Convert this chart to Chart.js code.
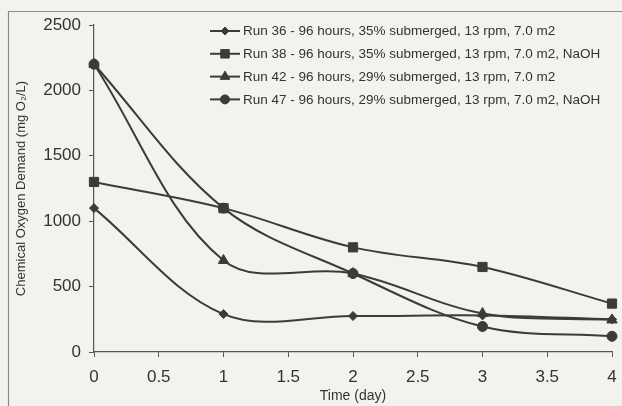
<!DOCTYPE html>
<html>
<head>
<meta charset="utf-8">
<script src="https://cdn.jsdelivr.net/npm/chart.js@4/dist/chart.umd.min.js"></script>
<style>
  html, body { margin: 0; padding: 0; background: #f4f2ee; }
  #wrap { width: 622px; height: 406px; position: relative; }
</style>
</head>
<body>
<div id="wrap"><canvas id="grafico" width="622" height="406"></canvas></div>
<script>
const dias = [0, 1, 2, 3, 4];
const run36 = [1100, 290, 275, 280, 250];
const run38 = [1300, 1100, 800, 650, 370];
const run42 = [2200, 700, 600, 295, 245];
const run47 = [2200, 1100, 600, 195, 120];

const legendas = [
  "Run 36 - 96 hours, 35% submerged, 13 rpm, 7.0 m2",
  "Run 38 - 96 hours, 35% submerged, 13 rpm, 7.0 m2, NaOH",
  "Run 42 - 96 hours, 29% submerged, 13 rpm, 7.0 m2",
  "Run 47 - 96 hours, 29% submerged, 13 rpm, 7.0 m2, NaOH",
];
const marcadores = ["rectRot", "rect", "triangle", "circle"];
const raios = [4.5, 6.5, 6, 5];
const series = [run36, run38, run42, run47];

const cor = "#3b3b3b";
const fonte = "'Liberation Sans', Arial, sans-serif";

const datasets = series.map((s, i) => ({
  label: legendas[i],
  data: s.map((v, j) => ({ x: dias[j], y: v })),
  borderColor: cor,
  backgroundColor: cor,
  borderWidth: 2,
  pointStyle: marcadores[i],
  pointRadius: raios[i],
  pointBorderWidth: 1,
  tension: 0.35,
  fill: false,
  clip: false,
}));

// fundo, moldura, legenda e título do eixo x desenhados à mão
const molduraPlugin = {
  id: "moldura",
  beforeDraw(chart) {
    const c = chart.ctx;
    c.save();
    c.fillStyle = "#f4f2ee";
    c.fillRect(0, 0, chart.width, chart.height);
    c.strokeStyle = "#8a8a8a";
    c.lineWidth = 1.2;
    c.beginPath();
    c.moveTo(8.5, 406);
    c.lineTo(8.5, 11.5);
    c.lineTo(622, 11.5);
    c.stroke();
    c.restore();
  },
  afterDraw(chart) {
    const c = chart.ctx;
    c.save();
    const x0 = 210, yTopo = 31, passo = 22.8;
    chart.data.datasets.forEach((ds, i) => {
      const y = yTopo + i * passo;
      c.strokeStyle = cor;
      c.lineWidth = 2;
      c.beginPath();
      c.moveTo(x0, y);
      c.lineTo(x0 + 30, y);
      c.stroke();
      c.fillStyle = cor;
      c.lineWidth = 1;
      Chart.helpers.drawPoint(c, {
        pointStyle: ds.pointStyle,
        radius: ds.pointRadius - 0.5,
        rotation: 0,
        borderWidth: 1,
      }, x0 + 15, y);
      c.fillStyle = "#333";
      c.font = "13.5px " + fonte;
      c.textBaseline = "middle";
      c.fillText(ds.label, x0 + 33, y + 0.5);
    });
    const area = chart.chartArea;
    c.fillStyle = "#333";
    c.font = "14px " + fonte;
    c.textAlign = "center";
    c.textBaseline = "middle";
    c.fillText("Time (day)", (area.left + area.right) / 2, 396);
    c.restore();
  },
};

new Chart(document.getElementById("grafico"), {
  type: "line",
  data: { datasets },
  plugins: [molduraPlugin],
  options: {
    responsive: false,
    animation: false,
    layout: { padding: { left: 12, top: 25, right: 10, bottom: 4 } },
    plugins: { legend: { display: false }, tooltip: { enabled: false } },
    scales: {
      x: {
        type: "linear",
        min: 0,
        max: 4,
        ticks: {
          stepSize: 0.5, color: "#333", font: { family: fonte, size: 17 }, padding: 10,
          maxRotation: 0, autoSkip: false,
          callback: (v) => String(v),
        },
        grid: { drawOnChartArea: false, color: "#555", tickLength: 5 },
        border: { color: "#555", width: 1.2 },
        title: { display: false },
        afterFit(s) { s.height = 50; s.paddingRight = 0; },
      },
      y: {
        min: 0,
        max: 2500,
        ticks: {
          stepSize: 500, color: "#333", font: { family: fonte, size: 17 }, padding: 8,
          callback: (v) => String(v),
        },
        grid: { drawOnChartArea: false, color: "#555", tickLength: 5 },
        border: { color: "#555", width: 1.2 },
        title: { display: true, text: "Chemical Oxygen Demand (mg O\u2082/L)", color: "#333", font: { family: fonte, size: 13 }, padding: 2 },
        afterFit(s) { s.width = 82; },
      },
    },
  },
});
</script>
</body>
</html>
